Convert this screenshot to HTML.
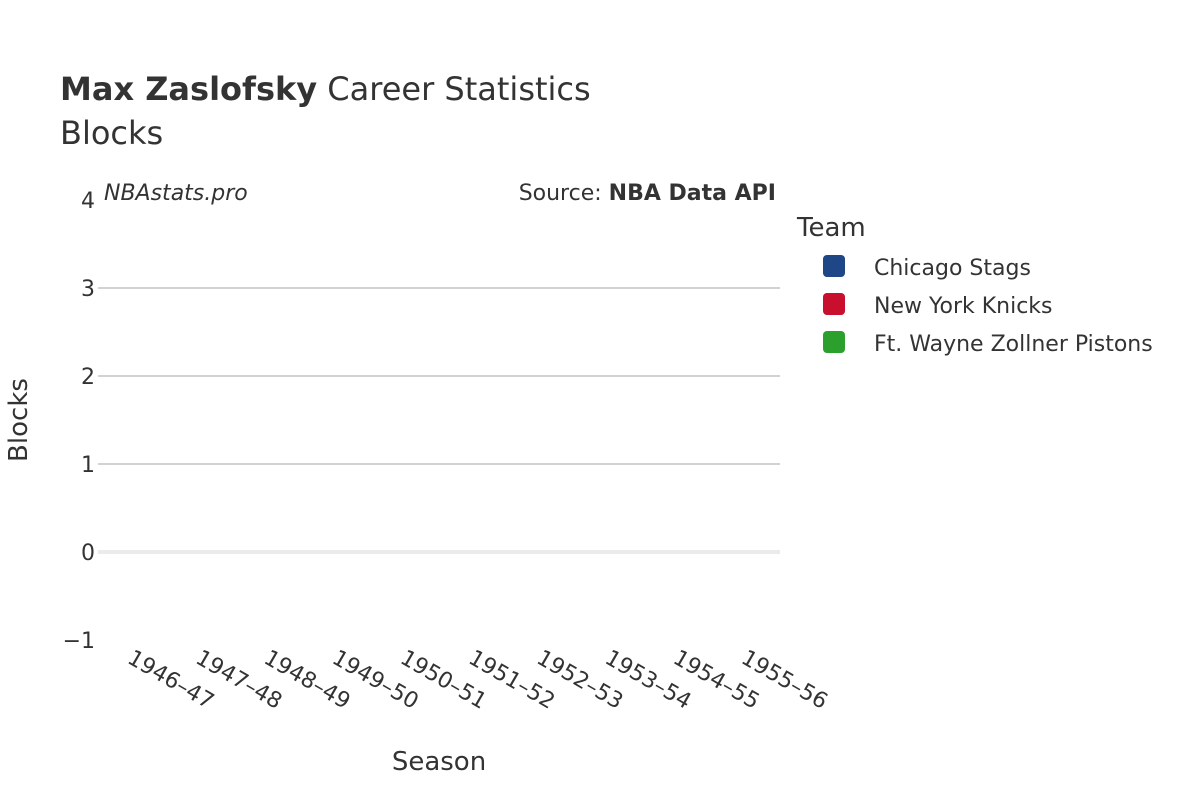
<!DOCTYPE html>
<html><head><meta charset="utf-8">
<style>
body{margin:0;background:#fff;}
svg{font-family:"DejaVu Sans","Liberation Sans",sans-serif;fill:#333;}
</style></head>
<body>
<svg id="chart" width="1200" height="800" viewBox="0 0 1200 800" xmlns="http://www.w3.org/2000/svg">
<rect width="1200" height="800" fill="#fff"/>
<text x="60" y="100" font-size="32" fill="#333"><tspan font-weight="bold">Max Zaslofsky</tspan> Career Statistics</text>
<text x="60" y="144" font-size="32" fill="#333">Blocks</text>
<g id="grid"></g>
<g id="yticks"></g>
<g id="xticks"></g>
<g id="marks"></g>
<text x="104" y="200" font-size="22" font-style="italic">NBAstats.pro</text>
<text x="776" y="200" font-size="22" text-anchor="end">Source: <tspan font-weight="bold">NBA Data API</tspan></text>
<text x="439" y="770" font-size="26" text-anchor="middle">Season</text>
<text transform="translate(27,420) rotate(-90)" font-size="26" text-anchor="middle">Blocks</text>
<g id="legend">
<text x="797" y="236" font-size="26">Team</text>
</g>
</svg>
<script>
const seasons=["1946–47","1947–48","1948–49","1949–50","1950–51","1951–52","1952–53","1953–54","1954–55","1955–56"];
const teams=["Chicago Stags","New York Knicks","Ft. Wayne Zollner Pistons"];
const teamColors=["#1f4788","#c8102e","#2ca02c"];
const chicagoValues=[null,null,null,null,null,null,null,null,null,null];
const knicksValues=[null,null,null,null,null,null,null,null,null,null];
const pistonsValues=[null,null,null,null,null,null,null,null,null,null];
const yTicks=[-1,0,1,2,3,4];
const yTickLabels=["−1","0","1","2","3","4"];

const NS="http://www.w3.org/2000/svg";
const X0=98,X1=780,Y0=552,UNIT=88;
const yScale=v=>Y0-v*UNIT;
const band=(X1-X0)/seasons.length;
const xScale=i=>X0+band*(i+0.5);
function mk(tag,attrs,parent){const e=document.createElementNS(NS,tag);for(const k in attrs)e.setAttribute(k,attrs[k]);parent.appendChild(e);return e;}
const grid=document.getElementById('grid'),yt=document.getElementById('yticks'),xt=document.getElementById('xticks'),marks=document.getElementById('marks'),leg=document.getElementById('legend');
yTicks.forEach((v,i)=>{
  const y=yScale(v);
  if(v>0&&v<4){const l=mk('line',{x1:X0,x2:X1,y1:y,y2:y,stroke:'#c4c4c4','stroke-width':1.5},grid);
    
    }
  if(v===0){const l=mk('line',{x1:X0,x2:X1,y1:y,y2:y,stroke:'#ebebeb','stroke-width':4},grid);
    
    }
  const t=mk('text',{x:95,y:y+8,'font-size':22,'text-anchor':'end'},yt);t.textContent=yTickLabels[i];
  
  
});
seasons.forEach((s,i)=>{
  const x=xScale(i)-6;
  const t=mk('text',{x:x,y:662,'font-size':22,transform:`rotate(30 ${x} 662)`},xt);t.textContent=s;
  
  
});
[chicagoValues,knicksValues,pistonsValues].forEach((vals,si)=>{
  vals.forEach((v,i)=>{
    if(v==null)return;
    const w=band/4,x=xScale(i)-band*0.375+si*w;
    const r=mk('rect',{x:x,y:Math.min(yScale(v),Y0),width:w,height:Math.abs(yScale(v)-Y0),fill:teamColors[si]},marks);
    
    
  });
});
teams.forEach((t,i)=>{
  const y=266+i*38;
  const r=mk('rect',{x:823,y:y-11,width:22,height:22,rx:4,fill:teamColors[i]},leg);
  
  
  const tx=mk('text',{x:874,y:y+9,'font-size':22},leg);tx.textContent=t;
  
  
});
</script>
</body></html>
